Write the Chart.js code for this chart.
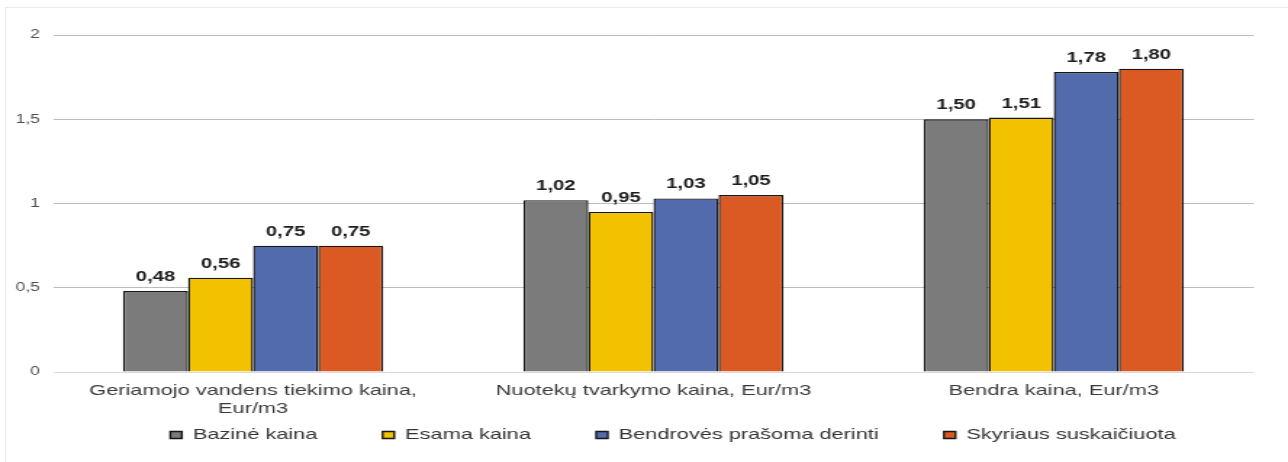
<!DOCTYPE html>
<html>
<head>
<meta charset="utf-8">
<script src="https://cdn.jsdelivr.net/npm/chart.js@4"></script>
<style>
    body { margin: 0; background: #fff; }
    #frame { position: absolute; left: 5px; top: 7px; width: 1283px; height: 455px; border-top: 1px solid #ebebeb; border-left: 1px solid #ebebeb; }
    /* the reference is horizontally stretched, so draw narrow and scale x */
    #wrap { position: absolute; left: 0; top: 0; width: 888px; height: 462px; transform: scaleX(1.45045); transform-origin: 0 0; }
</style>
</head>
<body>
<div id="frame"></div>
<div id="wrap"><canvas id="chart" width="888" height="462"></canvas></div>
<script>
const categories = [
    ["Geriamojo vandens tiekimo kaina,", "Eur/m3"],
    "Nuotekų tvarkymo kaina, Eur/m3",
    "Bendra kaina, Eur/m3"
];
const seriesNames = ["Bazinė kaina", "Esama kaina", "Bendrovės prašoma derinti", "Skyriaus suskaičiuota"];
const bazine = [0.48, 1.02, 1.50];
const esama = [0.56, 0.95, 1.51];
const bendroves = [0.75, 1.03, 1.78];
const skyriaus = [0.75, 1.05, 1.80];
const colors = ["#7b7b7b", "#f2c200", "#516bad", "#db5a24"];

const fmt = (v) => v.toFixed(2).replace('.', ',');

// value labels above bars
const valueLabels = {
    id: 'valueLabels',
    afterDatasetsDraw(chart) {
        const c = chart.ctx;
        c.save();
        c.font = 'bold 14px "Liberation Sans", Arial, sans-serif';
        c.fillStyle = '#1c1c1c';
        c.textAlign = 'center';
        c.textBaseline = 'alphabetic';
        chart.data.datasets.forEach((ds, i) => {
            const meta = chart.getDatasetMeta(i);
            meta.data.forEach((bar, j) => {
                c.fillText(fmt(ds.data[j]), bar.x, bar.y - 10);
            });
        });
        c.restore();
    }
};

// legend spacing is wide, so move the legend box up after layout
const legendShift = {
    id: 'legendShift',
    afterLayout(chart) {
        const lg = chart.legend;
        if (!lg) return;
        lg.top = 435 - 7.5 - 45;
        lg.bottom = 462;
        lg.left -= 9;
        lg.right -= 9;
    }
};

Chart.defaults.font.family = '"Liberation Sans", Arial, sans-serif';
Chart.defaults.color = '#404040';

const ctx = document.querySelector('#chart').getContext('2d');
const allData = [bazine, esama, bendroves, skyriaus];

new Chart(ctx, {
    type: 'bar',
    data: {
        labels: categories,
        datasets: allData.map((d, i) => ({
            label: seriesNames[i],
            data: d,
            backgroundColor: colors[i],
            borderColor: '#161616',
            borderWidth: 1.4,
            categoryPercentage: 0.65,
            barPercentage: 1
        }))
    },
    options: {
        responsive: false,
        animation: false,
        layout: {
            padding: { top: 35, right: 23.5, bottom: 0, left: 0 }
        },
        scales: {
            x: {
                grid: { display: false },
                border: { display: false },
                ticks: {
                    font: { size: 15 },
                    color: '#3a3a3a',
                    padding: 2,
                    maxRotation: 0,
                    autoSkip: false
                },
                afterFit: (scale) => { scale.height = 44; }
            },
            y: {
                min: 0,
                max: 2,
                border: { display: false },
                grid: {
                    drawTicks: false,
                    color: (c) => c.tick && c.tick.value === 0 ? '#d9d9d9' : '#bcbcbc'
                },
                ticks: {
                    stepSize: 0.5,
                    padding: 9,
                    font: { size: 12 },
                    color: '#505050',
                    callback: (v) => v.toString().replace('.', ',')
                },
                afterFit: (scale) => { scale.width = 36.5; }
            }
        },
        plugins: {
            legend: {
                position: 'bottom',
                align: 'end',
                fullSize: false,
                maxHeight: 46,
                labels: {
                    boxWidth: 8,
                    boxHeight: 7,
                    padding: 45,
                    font: { size: 15 },
                    color: '#333'
                }
            },
            tooltip: { enabled: false }
        }
    },
    plugins: [valueLabels, legendShift]
});
</script>
</body>
</html>
